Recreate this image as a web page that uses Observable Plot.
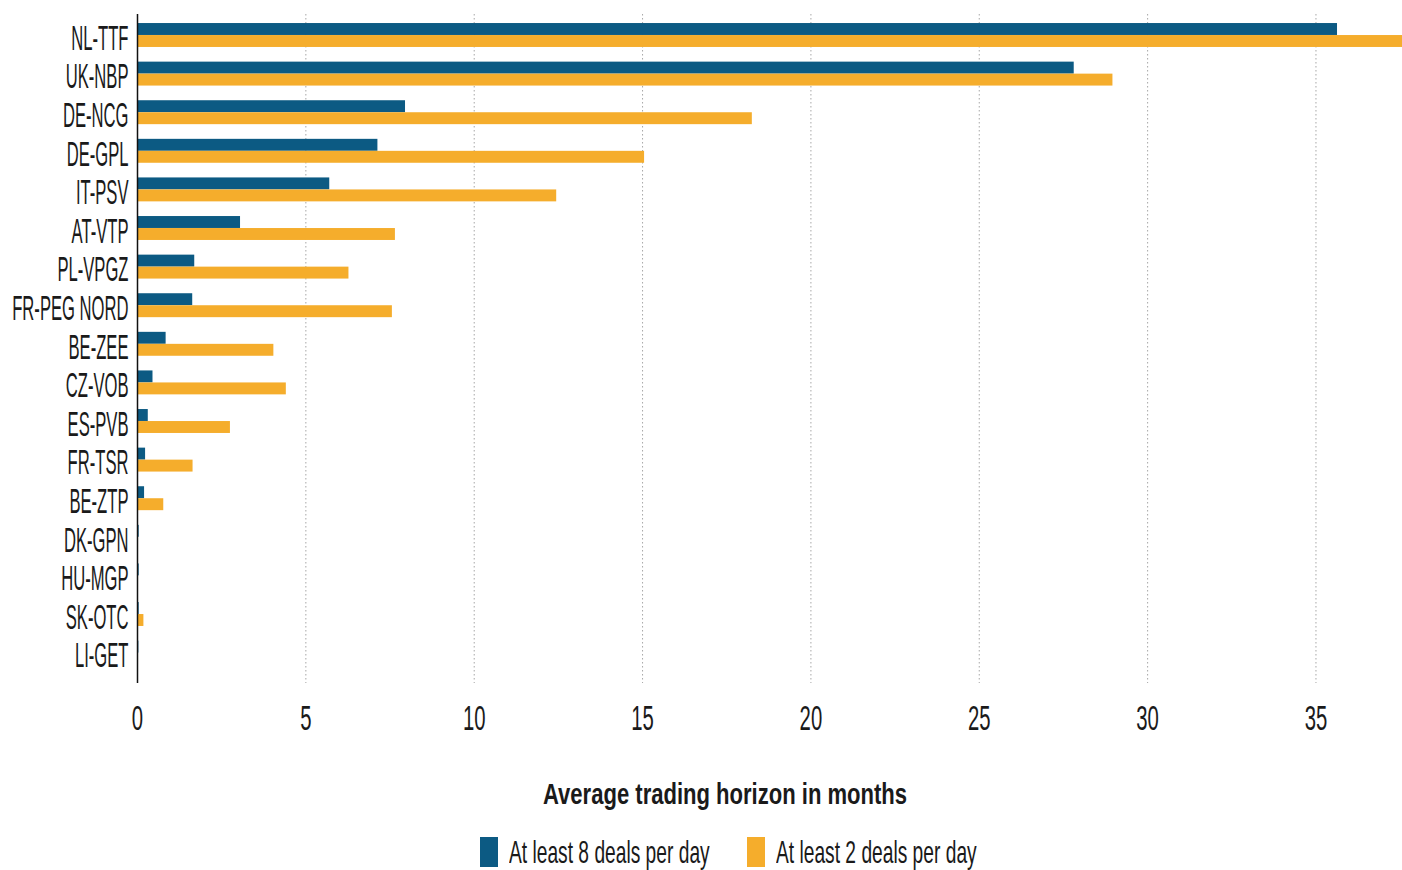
<!DOCTYPE html>
<html><head><meta charset="utf-8">
<script src="https://cdn.jsdelivr.net/npm/d3@7"></script>
<script src="https://cdn.jsdelivr.net/npm/@observablehq/plot@0.6"></script>
<style>
body{margin:0;background:#fff;}
#wrap{position:relative;width:1402px;height:870px;overflow:hidden;font-family:"Liberation Sans",Arial,sans-serif;color:#1a1a1a;}
#chart{position:absolute;left:0;top:0;}
.htext{position:absolute;white-space:nowrap;transform-origin:0 0;line-height:1;}
.sw{position:absolute;width:18px;height:30px;}
</style></head><body>
<div id="wrap"><div id="chart"></div></div>
<script>
// ---- data ----
const hubs = ["NL-TTF","UK-NBP","DE-NCG","DE-GPL","IT-PSV","AT-VTP","PL-VPGZ","FR-PEG NORD","BE-ZEE","CZ-VOB","ES-PVB","FR-TSR","BE-ZTP","DK-GPN","HU-MGP","SK-OTC","LI-GET"];
const deals8 = [35.64, 27.82, 7.96, 7.14, 5.71, 3.06, 1.70, 1.64, 0.85, 0.46, 0.32, 0.24, 0.21, 0.05, 0.05, 0.05, 0.04];
const deals2 = [38.5, 28.97, 18.26, 15.06, 12.45, 7.66, 6.28, 7.57, 4.05, 4.42, 2.76, 1.65, 0.78, 0.03, 0.03, 0.19, 0.03];
const seriesNames = ["At least 8 deals per day", "At least 2 deals per day"];
const seriesColors = ["#0c5a83", "#f5ad2c"];
const xTicks = [0, 5, 10, 15, 20, 25, 30, 35];
const gridTicks = [5, 10, 15, 20, 25, 30, 35];
const axisTitle = "Average trading horizon in months";

const rows = hubs.map((h, i) => ({hub: h, v8: deals8[i], v2: deals2[i]}));

const chart = Plot.plot({
  width: 1402, height: 745,
  marginLeft: 137, marginRight: 0, marginTop: 14, marginBottom: 62,
  style: {background: "transparent", fontFamily: "'Liberation Sans', Arial, sans-serif", color: "#1a1a1a"},
  x: {domain: [0, 37.57]},
  y: {domain: hubs, range: [15.7, 671.9], paddingInner: 0.38, paddingOuter: 0.19, round: false},
  marks: [
    Plot.gridX(gridTicks, {stroke: "#8a8a8a", strokeOpacity: 0.75, strokeDasharray: "1.5,2.5", strokeWidth: 1}),
    Plot.barX(rows, {y: "hub", x: "v8", fill: seriesColors[0], insetBottom: 12, clip: true}),
    Plot.barX(rows, {y: "hub", x: "v2", fill: seriesColors[1], insetTop: 12, clip: true}),
    Plot.ruleX([0], {stroke: "#111", strokeWidth: 1.5}),
    Plot.axisY({tickSize: 0, tickPadding: 9, fontSize: 35, dy: 3, label: null}),
    Plot.axisX({ticks: xTicks, tickSize: 0, tickPadding: 22, fontSize: 35, label: null})
  ]
});
document.getElementById("chart").appendChild(chart);

// condensed look for tick labels
function condense(sel, k) {
  chart.querySelectorAll(sel).forEach(t => {
    const tr = t.getAttribute("transform") || "";
    t.setAttribute("transform", tr + ` scale(${k},1)`);
  });
}
condense('g[aria-label="y-axis tick label"] text', 0.475);
condense('g[aria-label="x-axis tick label"] text', 0.58);

const wrap = document.getElementById("wrap");
// axis title (HTML, below svg)
const title = document.createElement("div");
title.className = "htext";
title.textContent = axisTitle;
title.style.fontSize = "29px";
title.style.fontWeight = "bold";
title.style.top = "780px";
wrap.appendChild(title);
const tk = 0.76;
const tw = title.getBoundingClientRect().width * tk;
title.style.left = (725 - tw / 2) + "px";
title.style.transform = `scaleX(${tk})`;

// legend
let lx = 480;
seriesNames.forEach((name, i) => {
  const sw = document.createElement("div");
  sw.className = "sw";
  sw.style.background = seriesColors[i];
  sw.style.left = lx + "px";
  sw.style.top = "837px";
  wrap.appendChild(sw);
  const t = document.createElement("div");
  t.className = "htext";
  t.textContent = name;
  t.style.fontSize = "32px";
  t.style.top = "836px";
  t.style.left = (lx + 29) + "px";
  wrap.appendChild(t);
  const w = t.getBoundingClientRect().width * 0.6;
  t.style.transform = "scaleX(0.6)";
  lx = lx + 29 + w + 37;
});
</script>
</body></html>
